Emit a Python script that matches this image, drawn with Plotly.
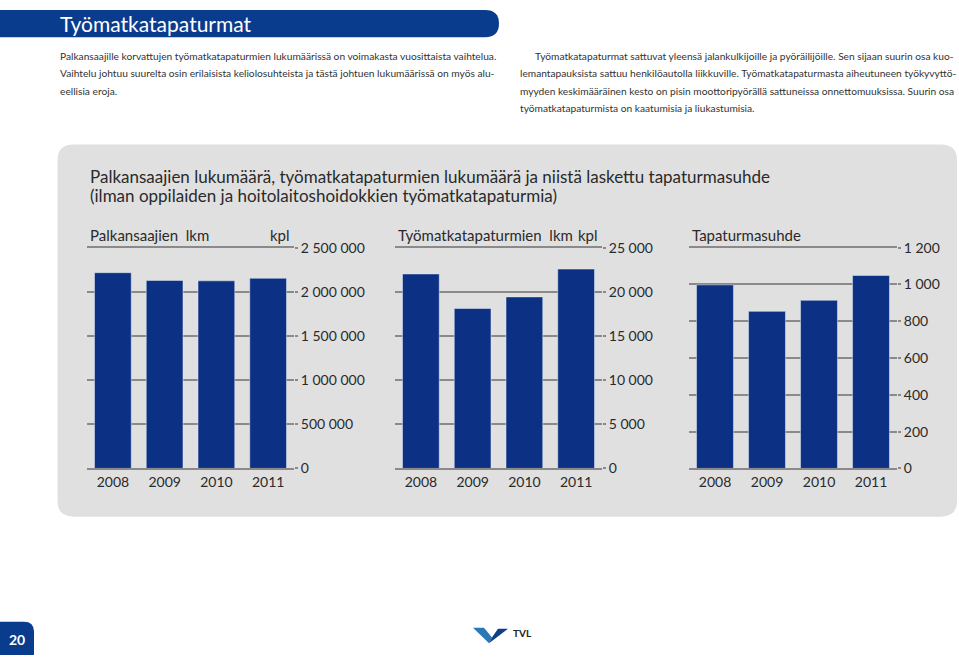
import plotly.graph_objects as go

W, H = 959, 663

# ---------------- data ----------------
years = ["2008", "2009", "2010", "2011"]
palkansaajat = [2217000, 2129000, 2125000, 2154000]
tyomatkatapaturmat = [22030, 18110, 19430, 22580]
tapaturmasuhde = [998, 854, 914, 1049]

ticks_p = [0, 500000, 1000000, 1500000, 2000000, 2500000]
ticklabels_p = ["0", "500 000", "1 000 000", "1 500 000", "2 000 000", "2 500 000"]
ticks_t = [0, 5000, 10000, 15000, 20000, 25000]
ticklabels_t = ["0", "5 000", "10 000", "15 000", "20 000", "25 000"]
ticks_s = [0, 200, 400, 600, 800, 1000, 1200]
ticklabels_s = ["0", "200", "400", "600", "800", "1 000", "1 200"]

BAR = "#0c3184"
HEAD = "#0a3c8d"
GRID = "#8a8a8a"
TXT = "#2a2a2a"
FONT = "Lato"


def px(x):
    return x / W


def py(y):
    return 1 - y / H


fig = go.Figure()

fig.add_trace(go.Bar(x=years, y=palkansaajat, marker_color=BAR, xaxis="x", yaxis="y"))
fig.add_trace(go.Bar(x=years, y=tyomatkatapaturmat, marker_color=BAR, xaxis="x2", yaxis="y2"))
fig.add_trace(go.Bar(x=years, y=tapaturmasuhde, marker_color=BAR, xaxis="x3", yaxis="y3"))

ydom = [py(471.5), py(245)]


def xax(d0, d1, anchor):
    return dict(domain=[px(d0), px(d1)], anchor=anchor, type="category",
                showline=True, mirror=True, linecolor=GRID, linewidth=1.5, ticks="",
                showgrid=False, tickfont=dict(size=14, color=TXT, family=FONT),
                fixedrange=True)


def yax(rng, tv, tt, anchor):
    return dict(domain=ydom, anchor=anchor, side="right", range=rng,
                tickvals=tv, ticktext=tt, showgrid=True, gridcolor=GRID,
                gridwidth=1.5, ticks="outside", ticklen=3, tickcolor=GRID,
                tickwidth=1.5, zeroline=False, showline=False,
                tickfont=dict(size=14, color=TXT, family=FONT), fixedrange=True)


fig.update_layout(
    xaxis=xax(87, 294, "y"),
    xaxis2=xax(395, 602, "y2"),
    xaxis3=xax(689, 897, "y3"),
    yaxis=yax([0, 2500000], ticks_p, ticklabels_p, "x"),
    yaxis2=yax([0, 25000], ticks_t, ticklabels_t, "x2"),
    yaxis3=yax([0, 1200], ticks_s, ticklabels_s, "x3"),
    bargap=0.29,
    showlegend=False,
    width=W, height=H,
    margin=dict(l=0, r=0, t=0, b=0),
    paper_bgcolor="white",
    plot_bgcolor="white",
    font=dict(family=FONT, color=TXT),
)


def P(x, y):
    return f"{px(x):.5f},{py(y):.5f}"


shapes = []
# header bar
shapes.append(dict(type="path", xref="paper", yref="paper", layer="below",
                   path=f"M {P(0,1)} L {P(485,1)} Q {P(499,1)} {P(499,15)} Q {P(499,29)} {P(485,29)} L {P(0,29)} Z",
                   fillcolor=HEAD, line=dict(width=0)))
# gray panel
x0, x1, y0, y1, r = 57.5, 957, 139, 521, 16
shapes.append(dict(type="path", xref="paper", yref="paper", layer="below",
                   path=(f"M {P(x0+r,y0)} L {P(x1-r,y0)} Q {P(x1,y0)} {P(x1,y0+r)} "
                         f"L {P(x1,y1-r)} Q {P(x1,y1)} {P(x1-r,y1)} L {P(x0+r,y1)} "
                         f"Q {P(x0,y1)} {P(x0,y1-r)} L {P(x0,y0+r)} Q {P(x0,y0)} {P(x0+r,y0)} Z"),
                   fillcolor="#e0e0e0", line=dict(width=0)))
# page number box
shapes.append(dict(type="path", xref="paper", yref="paper", layer="below",
                   path=f"M {P(0,629)} L {P(24,629)} Q {P(34,629)} {P(34,639)} L {P(34,663)} L {P(0,663)} Z",
                   fillcolor=HEAD, line=dict(width=0)))
# logo
shapes.append(dict(type="path", xref="paper", yref="paper",
                   path=f"M {P(473,635)} L {P(484,635)} L {P(492,645)} L {P(489,651)} Z",
                   fillcolor="#2a78b8", line=dict(width=0)))
shapes.append(dict(type="path", xref="paper", yref="paper",
                   path=f"M {P(489,651)} L {P(492,645)} L {P(498,636)} L {P(508,636)} Z",
                   fillcolor="#0f3f82", line=dict(width=0)))
fig.update_layout(shapes=shapes)

ann = []


def text(x, y, s, size, color=TXT, xanchor="left", bold=False, family=FONT):
    if bold:
        s = f"<b>{s}</b>"
    ann.append(dict(x=px(x), y=py(y), xref="paper", yref="paper", text=s,
                    showarrow=False, xanchor=xanchor, yanchor="middle",
                    font=dict(size=size, color=color, family=family)))


text(58, 15, "Työmatkatapaturmat", 21, color="white")

left_lines = [
    "Palkansaajille korvattujen työmatkatapaturmien lukumäärissä on voimakasta vuosittaista vaihtelua.",
    "Vaihtelu johtuu suurelta osin erilaisista keliolosuhteista ja tästä johtuen lukumäärissä on myös alu-",
    "eellisia eroja.",
]
for i, s in enumerate(left_lines):
    text(58, 48 + 18 * i, s, 10.2, color="#333333")

right_lines = [
    (533, "Työmatkatapaturmat sattuvat yleensä jalankulkijoille ja pyöräilijöille. Sen sijaan suurin osa kuo-"),
    (518, "lemantapauksista sattuu henkilöautolla liikkuville. Työmatkatapaturmasta aiheutuneen työkyvyttö-"),
    (518, "myyden keskimääräinen kesto on pisin moottoripyörällä sattuneissa onnettomuuksissa. Suurin osa"),
    (518, "työmatkatapaturmista on kaatumisia ja liukastumisia."),
]
for i, (x, s) in enumerate(right_lines):
    text(x, 48 + 18 * i, s, 10.2, color="#333333")

text(88, 172, "Palkansaajien lukumäärä, työmatkatapaturmien lukumäärä ja niistä laskettu tapaturmasuhde", 17)
text(88, 191, "(ilman oppilaiden ja hoitolaitoshoidokkien työmatkatapaturmia)", 17)

text(88, 232, "Palkansaajien  lkm", 15)
text(292, 232, "kpl", 15, xanchor="right")
text(396, 232, "Työmatkatapaturmien  lkm", 15)
text(600, 232, "kpl", 15, xanchor="right")
text(690, 232, "Tapaturmasuhde", 15)

text(17, 647, "20", 14, color="white", xanchor="center", bold=True)
text(511, 640, "TVL", 10, color="#222222", bold=True)

fig.update_layout(annotations=ann)

fig.write_html("out.html", config={"displayModeBar": False},
               post_script="document.body.style.margin='0';document.body.style.overflow='hidden';")
